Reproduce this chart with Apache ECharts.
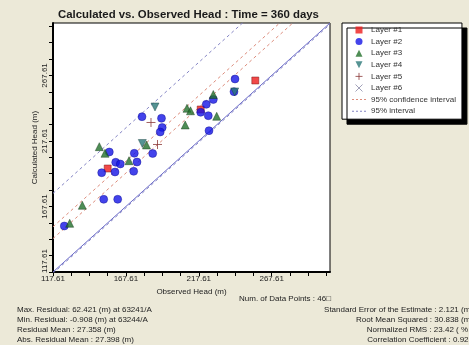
<!DOCTYPE html>
<html>
<head>
<meta charset="utf-8">
<script src="https://cdn.jsdelivr.net/npm/echarts@6/dist/echarts.min.js"></script>
<style>
html,body{margin:0;padding:0;background:#ECE9D8;}
#c{width:469px;height:345px;}
</style>
</head>
<body>
<div id="c"></div>
<script>
// ---- data (observed, calculated) ----
const layer1 = [[155.13,196.59],[218.92,241.61],[256.37,263.74]];
const layer2 = [[242.44,264.89],[241.76,255.2],[227.56,249.24],[222.76,245.58],[218.92,239.48],
  [224.13,236.88],[224.61,225.44],[178.66,236.12],[192.03,234.9],[192.51,227.88],[191.14,224.44],
  [156.23,209.18],[173.37,208.19],[185.99,208.04],[160.62,201.32],[163.77,200.02],[175.23,201.55],
  [151.01,193.39],[160.14,193.92],[172.96,194.45],[152.39,173.09],[161.99,173.09],[125.36,152.71]];
const layer3 = [[227.56,253.06],[209.52,242.53],[211.92,240.62],[229.89,236.42],[208.29,229.79],
  [181.74,214.52],[149.37,213.23],[153.28,208.19],[169.74,202.54],[137.71,168.51],[129.06,154.77]];
const layer4 = [[187.57,243.52],[178.86,215.67],[242.24,255.0]];
const layer5 = [[184.83,231.69],[189.29,214.91]];
const layer6 = [];
const confOffsets = [25.5, 34.5];   // 95% confidence interval (calc - obs)
const predOffsets = [-1.0, 60.0];   // 95% interval
const axisMin = 117.61, axisMax = 307.61;
const layerNames = ['Layer #1','Layer #2','Layer #3','Layer #4','Layer #5','Layer #6'];
const statsLeft = ['Max. Residual: 62.421 (m) at 63241/A','Min. Residual: -0.908 (m) at 63244/A',
  'Residual Mean : 27.358 (m)','Abs. Residual Mean : 27.398 (m)'];
const statsRight = ['Standard Error of the Estimate : 2.121 (m)','Root Mean Squared : 30.838 (m)',
  'Normalized RMS : 23.42 ( % )','Correlation Coefficient : 0.925'];
const countText = 'Num. of Data Points : 46\u25A1';

const FF = '"Liberation Sans", Arial, sans-serif';
const C = {one:'#6a6ac8', pred:'#8484c4', conf:'#dc8c7c'};
const SYM = {
  sq:'path://M0,0L10,0L10,10L0,10Z',
  up:'path://M5,0L10,10L0,10Z',
  down:'path://M0,0L10,0L5,10Z',
  plus:'path://M4,0L4,8M0,4L8,4',
  cross:'path://M0,0L8,8M8,0L0,8',
  dash:'path://M0,0h2v1h-2zM4,0h2v1h-2zM8,0h2v1h-2zM12,0h2v1h-2z'
};

function offLine(off){ return [[axisMin, axisMin+off],[axisMax, axisMax+off]]; }
function xFmt(v, i){ return (i % 4 === 0 && v < axisMax - 5) ? v.toFixed(2) : ''; }
function yFmt(v, i){
  if (!(i % 4 === 0 && v < axisMax - 5)) return '';
  return i === 0 ? '{m|' + v.toFixed(2) + '}' : v.toFixed(2);
}

const lineSeries = [];
lineSeries.push({name:'1:1', type:'line', data: offLine(0), symbol:'none', silent:true,
  lineStyle:{color:C.one, width:1}, itemStyle:{color:C.one}, z:1});
predOffsets.forEach(o => lineSeries.push({name:'95% interval', type:'line', data: offLine(o), symbol:'none',
  lineStyle:{color:C.pred, width:1, type:[3,3]}, itemStyle:{color:C.pred}, z:1}));
confOffsets.forEach(o => lineSeries.push({name:'95% confidence interval', type:'line', data: offLine(o), symbol:'none',
  lineStyle:{color:C.conf, width:1, type:[3,3]}, itemStyle:{color:C.conf}, z:1}));

const scat = [
  {name:layerNames[0], data:layer1, symbol:'rect', symbolSize:7, itemStyle:{color:'#ee1c1c', borderColor:'#7a1010', borderWidth:0.6}},
  {name:layerNames[1], data:layer2, symbol:'circle', symbolSize:8, itemStyle:{color:'#1414e6', borderColor:'#0a0a8a', borderWidth:0.5}},
  {name:layerNames[2], data:layer3, symbol:'triangle', symbolSize:8, itemStyle:{color:'#22702a', borderColor:'#0b3010', borderWidth:0.5}},
  {name:layerNames[3], data:layer4, symbol:'triangle', symbolRotate:180, symbolSize:8, itemStyle:{color:'#2b7878', borderColor:'#0f3636', borderWidth:0.5}},
  {name:layerNames[4], data:layer5, symbol:SYM.plus, symbolSize:9, itemStyle:{color:'#8b3a3a', borderColor:'#8b3a3a', borderWidth:1}},
  {name:layerNames[5], data:layer6, symbol:SYM.cross, symbolSize:8, itemStyle:{color:'#8a8aa8', borderColor:'#8a8aa8', borderWidth:1}}
].map(s => Object.assign({type:'scatter', z:3}, s));

const legendIcons = [SYM.sq, 'circle', SYM.up, SYM.down, SYM.plus, SYM.cross];
const legendData = layerNames.map((n,i) => ({name:n, icon:legendIcons[i],
  itemStyle:{borderWidth: i >= 4 ? 1 : 0}}))
  .concat([{name:'95% confidence interval', icon:SYM.dash, itemStyle:{borderWidth:0}},
           {name:'95% interval', icon:SYM.dash, itemStyle:{borderWidth:0}}]);

const graphics = [];
graphics.push({type:'text', left:239, top:295, style:{text:countText, font:'8px '+FF, fill:'#222'}});
statsLeft.forEach((t,i)=>graphics.push({type:'text', x:17, y:306+i*10, style:{text:t, font:'8px '+FF, fill:'#222', textAlign:'left', textVerticalAlign:'top'}}));
statsRight.forEach((t,i)=>graphics.push({type:'text', x:473, y:306+i*10, style:{text:t, font:'8px '+FF, fill:'#222', textAlign:'right', textVerticalAlign:'top'}}));

const chart = echarts.init(document.getElementById('c'), null, {renderer:'canvas'});
chart.setOption({
  backgroundColor:'#ECE9D8',
  animation:false,
  textStyle:{fontFamily:FF},
  title:{text:'Calculated vs. Observed Head : Time = 360 days', left:58, top:9, padding:0,
    textStyle:{fontSize:11.4, fontWeight:'bold', color:'#1a1a1a', fontFamily:FF}},
  grid:{left:53, right:139, top:23, bottom:73, show:true, backgroundColor:'#fff', borderColor:'#000', borderWidth:1, containLabel:false},
  legend:{orient:'vertical', left:342, top:23, padding:[3,6,4,10], itemWidth:14, itemHeight:7, itemGap:3.6,
    backgroundColor:'#fff', borderColor:'#000', borderWidth:1,
    shadowColor:'#000', shadowOffsetX:5, shadowOffsetY:5, shadowBlur:0,
    textStyle:{fontSize:8, color:'#333', fontFamily:FF},
    data: legendData},
  xAxis:{type:'value', min:axisMin, max:axisMax, interval:12.5,
    name:'Observed Head (m)', nameLocation:'middle', nameGap:15,
    nameTextStyle:{fontSize:8, color:'#222', fontFamily:FF},
    axisLine:{onZero:false, lineStyle:{color:'#000', width:2}},
    axisTick:{length:4, lineStyle:{color:'#000', width:1}},
    axisLabel:{formatter:xFmt, fontSize:8, color:'#222', margin:3, showMaxLabel:false, hideOverlap:false},
    splitLine:{show:false}},
  yAxis:{type:'value', min:axisMin, max:axisMax, interval:12.5,
    name:'Calculated Head (m)', nameLocation:'middle', nameGap:14, nameMoveOverlap:false,
    nameTextStyle:{fontSize:8, color:'#222', fontFamily:FF},
    axisLine:{onZero:false, lineStyle:{color:'#000', width:2}},
    axisTick:{length:4, lineStyle:{color:'#000', width:1}},
    axisLabel:{formatter:yFmt, fontSize:8, color:'#222', margin:4, rotate:90, showMaxLabel:false, hideOverlap:false,
      rich:{m:{fontSize:8, color:'#222', padding:[0,0,0,22]}}},
    splitLine:{show:false}},
  series: lineSeries.concat(scat),
  graphic: graphics
});
</script>
</body>
</html>
